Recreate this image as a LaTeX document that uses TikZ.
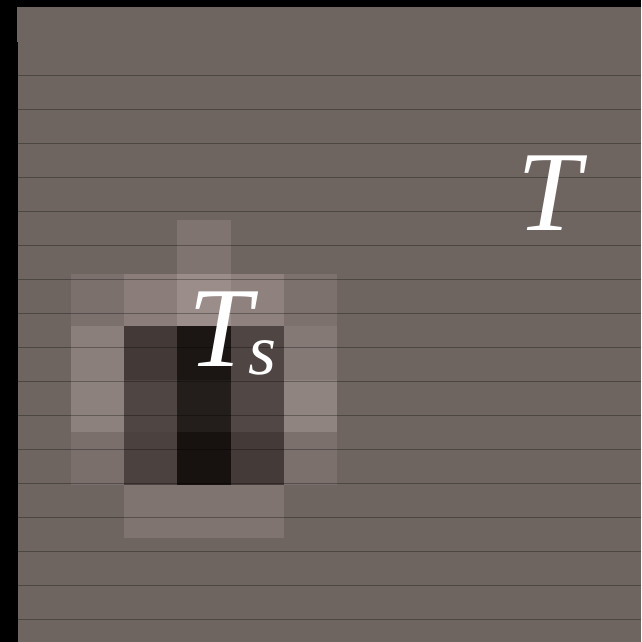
\documentclass[tikz,border=0pt]{standalone}
\usepackage{fontspec}
\setmainfont{Liberation Serif}
\definecolor{bgtone}{RGB}{110,101,97}
\definecolor{rowline}{RGB}{78,70,68}

\begin{document}
\begin{tikzpicture}[x=1pt,y=-1pt]
\fill[bgtone] (0,0) rectangle (641,642);
\fill[black] (0,0) rectangle (641,7);
\fill[black] (0,0) rectangle (17,642);
\fill[black] (17,42) rectangle (18,642);
% cells, row by row
\fill[fill={rgb,255:red,128;green,116;blue,113}] (177,220) rectangle (231,274);
\fill[fill={rgb,255:red,124;green,112;blue,109}] (71,274) rectangle (124,326);
\fill[fill={rgb,255:red,138;green,125;blue,122}] (124,274) rectangle (177,326);
\fill[fill={rgb,255:red,155;green,141;blue,138}] (177,274) rectangle (231,326);
\fill[fill={rgb,255:red,142;green,129;blue,126}] (231,274) rectangle (284,326);
\fill[fill={rgb,255:red,125;green,113;blue,110}] (284,274) rectangle (337,326);
\fill[fill={rgb,255:red,139;green,127;blue,124}] (71,326) rectangle (124,380);
\fill[fill={rgb,255:red,67;green,58;blue,56}] (124,326) rectangle (177,380);
\fill[fill={rgb,255:red,27;green,21;blue,19}] (177,326) rectangle (231,380);
\fill[fill={rgb,255:red,79;green,69;blue,67}] (231,326) rectangle (284,380);
\fill[fill={rgb,255:red,133;green,121;blue,118}] (284,326) rectangle (337,380);
\fill[fill={rgb,255:red,141;green,129;blue,126}] (71,380) rectangle (124,432);
\fill[fill={rgb,255:red,79;green,69;blue,66}] (124,380) rectangle (177,432);
\fill[fill={rgb,255:red,35;green,29;blue,27}] (177,380) rectangle (231,432);
\fill[fill={rgb,255:red,81;green,71;blue,69}] (231,380) rectangle (284,432);
\fill[fill={rgb,255:red,144;green,132;blue,128}] (284,380) rectangle (337,432);
\fill[fill={rgb,255:red,123;green,111;blue,108}] (71,432) rectangle (124,485);
\fill[fill={rgb,255:red,75;green,65;blue,63}] (124,432) rectangle (177,485);
\fill[fill={rgb,255:red,23;green,17;blue,15}] (177,432) rectangle (231,485);
\fill[fill={rgb,255:red,68;green,58;blue,56}] (231,432) rectangle (284,485);
\fill[fill={rgb,255:red,124;green,112;blue,109}] (284,432) rectangle (337,485);
\fill[fill={rgb,255:red,128;green,116;blue,113}] (124,485) rectangle (284,538);
% ruled lines
\draw[black,opacity=0.3,line width=1pt] (18,75) -- (641,75);
\draw[black,opacity=0.3,line width=1pt] (18,109) -- (641,109);
\draw[black,opacity=0.3,line width=1pt] (18,143) -- (641,143);
\draw[black,opacity=0.3,line width=1pt] (18,177) -- (641,177);
\draw[black,opacity=0.3,line width=1pt] (18,211) -- (641,211);
\draw[black,opacity=0.3,line width=1pt] (18,245) -- (641,245);
\draw[black,opacity=0.3,line width=1pt] (18,279) -- (641,279);
\draw[black,opacity=0.3,line width=1pt] (18,313) -- (641,313);
\draw[black,opacity=0.3,line width=1pt] (18,347) -- (641,347);
\draw[black,opacity=0.3,line width=1pt] (18,381) -- (641,381);
\draw[black,opacity=0.3,line width=1pt] (18,415) -- (641,415);
\draw[black,opacity=0.3,line width=1pt] (18,449) -- (641,449);
\draw[black,opacity=0.3,line width=1pt] (18,483) -- (641,483);
\draw[black,opacity=0.3,line width=1pt] (18,517) -- (641,517);
\draw[black,opacity=0.3,line width=1pt] (18,551) -- (641,551);
\draw[black,opacity=0.3,line width=1pt] (18,585) -- (641,585);
\draw[black,opacity=0.3,line width=1pt] (18,619) -- (641,619);
\node[text=white,inner sep=0pt,anchor=base] (tfull) at (549,230) {\fontsize{114}{114}\itshape T};
\node[text=white,inner sep=0pt,anchor=base west] (tsub) at (188,366) {\fontsize{114}{114}\itshape T\kern-3pt\raisebox{-8pt}{\fontsize{72}{72}\selectfont s}};
\path (0,0) rectangle (641,642);
\end{tikzpicture}
\end{document}
